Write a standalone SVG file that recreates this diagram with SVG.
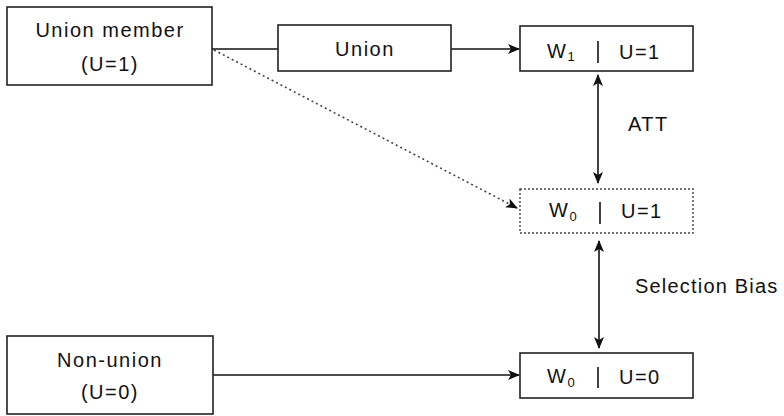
<svg xmlns="http://www.w3.org/2000/svg" width="784" height="416" viewBox="0 0 784 416">
<defs>
<style>
.box{fill:#fff;stroke:#222;stroke-width:1.6}
.dash{fill:#fff;stroke:#444;stroke-width:1.4;stroke-dasharray:2 2}
.t{font-family:"Liberation Sans",Arial,sans-serif;font-size:20px;fill:#111;letter-spacing:1.5px}
.m{text-anchor:middle}
.ln{stroke:#111;stroke-width:1.6;fill:none}
.dot{stroke:#444;stroke-width:1.6;fill:none;stroke-dasharray:2 3}
.sub{font-size:13px}
</style>
<marker id="ah" viewBox="0 0 12 10" refX="11" refY="5" markerWidth="12" markerHeight="10" markerUnits="userSpaceOnUse" orient="auto-start-reverse">
<path d="M0,0 L12,5 L0,10 L3,5 z" fill="#111"/>
</marker>
</defs>
<g id="connectors">
<line class="ln" x1="212" y1="49" x2="278" y2="49"/>
<line class="ln" x1="451" y1="49" x2="519" y2="49" marker-end="url(#ah)"/>
<line class="dot" x1="214" y1="50" x2="517" y2="208" marker-end="url(#ah)"/>
<line class="ln" x1="598" y1="75" x2="598" y2="183" marker-start="url(#ah)" marker-end="url(#ah)"/>
<line class="ln" x1="599" y1="241" x2="599" y2="348" marker-start="url(#ah)" marker-end="url(#ah)"/>
<line class="ln" x1="213" y1="375" x2="519" y2="375" marker-end="url(#ah)"/>
<text class="t" x="628" y="131">ATT</text>
<text class="t" x="635" y="293" style="letter-spacing:1.2px">Selection Bias</text>
</g>
<g id="union-member">
<rect class="box" x="7" y="7" width="205" height="78"/>
<text class="t m" x="110" y="37">Union member</text>
<text class="t m" x="110" y="71">(U=1)</text>
</g>
<g id="union">
<rect class="box" x="278" y="25" width="173" height="46"/>
<text class="t m" x="365" y="56">Union</text>
</g>
<g id="w1-u1">
<rect class="box" x="520" y="26" width="173" height="45"/>
<text class="t" x="547" y="58">W<tspan class="sub" dy="3">1</tspan></text>
<line class="ln" x1="598" y1="41" x2="598" y2="63"/>
<text class="t" x="619" y="59">U=1</text>
</g>
<g id="w0-u1">
<rect class="dash" x="520" y="189" width="173" height="44"/>
<text class="t" x="549" y="217">W<tspan class="sub" dy="4">0</tspan></text>
<line class="ln" x1="600" y1="202" x2="600" y2="224"/>
<text class="t" x="621" y="218">U=1</text>
</g>
<g id="w0-u0">
<rect class="box" x="520" y="353" width="173" height="45"/>
<text class="t" x="547" y="383">W<tspan class="sub" dy="4">0</tspan></text>
<line class="ln" x1="598" y1="367" x2="598" y2="388"/>
<text class="t" x="619" y="384">U=0</text>
</g>
<g id="non-union">
<rect class="box" x="7" y="336" width="206" height="78"/>
<text class="t m" x="110" y="367">Non-union</text>
<text class="t m" x="110" y="399">(U=0)</text>
</g>
</svg>
